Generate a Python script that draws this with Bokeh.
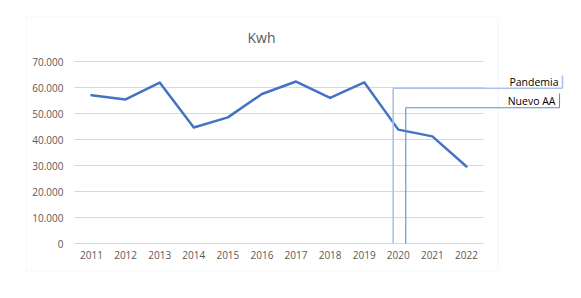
from bokeh.plotting import figure
from bokeh.models import Range1d, FixedTicker, Arrow, Label, BoxAnnotation
from bokeh.embed import file_html
from bokeh.resources import INLINE

# ---- data ----
years = ["2011", "2012", "2013", "2014", "2015", "2016", "2017", "2018",
         "2019", "2020", "2021", "2022"]
kwh = [57000, 55400, 61900, 44600, 48500, 57500, 62300, 56000, 62000,
       43800, 41200, 29600]
y_ticks = [0, 10000, 20000, 30000, 40000, 50000, 60000, 70000]

# event markers (year of event, offset inside the category, leader height)
event_names = ["Pandemia", "Nuevo AA"]
event_years = ["2020", "2020"]
event_offsets = [-0.15, 0.22]
event_heights = [59700, 52200]
event_colors = ["#A8C4EA", "#5E8CCB"]
event_widths = [1.6, 1.1]

# ---- layout geometry (pixels) ----
W, H = 581, 298
PL, PR, PT, PB = 74, 483, 61, 243          # plot area of the chart
BL, BR, BT, BB = 25, 497, 16, 271          # chart box
FR = 570                                   # right edge of drawing frame
n = len(years)
px_per_cat = (PR - PL) / n
px_per_val = (PB - PT) / y_ticks[-1]


def px_x(px):
    return (px - PL) / px_per_cat


def px_y(py):
    return (PB - py) / px_per_val


p = figure(x_range=Range1d(px_x(BL), px_x(FR)),
           y_range=Range1d(px_y(BB), px_y(BT)),
           width=W, height=H, title=None,
           min_border_left=BL, min_border_right=W - FR, min_border_top=BT,
           min_border_bottom=H - BB, output_backend="svg",
           toolbar_location=None)
p.outline_line_color = None
p.background_fill_color = "white"
p.border_fill_color = "white"
p.xgrid.grid_line_color = None
p.ygrid.grid_line_color = None

font = "Open Sans"
x_pos = [i + 0.5 for i in range(n)]
p.xaxis.ticker = FixedTicker(ticks=x_pos)
p.xaxis.major_label_overrides = {x: y for x, y in zip(x_pos, years)}
p.yaxis.ticker = FixedTicker(ticks=y_ticks)
p.yaxis.major_label_overrides = {v: f"{v:,}".replace(",", ".") for v in y_ticks}
for ax in (p.xaxis, p.yaxis):
    ax.axis_line_color = None
    ax.major_tick_line_color = None
    ax.minor_tick_line_color = None
    ax.major_tick_out = 0
    ax.major_tick_in = 0
    ax.minor_tick_out = 0
    ax.major_label_text_font = font
    ax.major_label_text_font_size = "10px"
    ax.major_label_text_color = "#595959"
p.yaxis.major_label_standoff = -(PL - 11 - BL)
p.xaxis.major_label_standoff = -(BB - PB - 7)

# chart box
p.add_layout(BoxAnnotation(left=px_x(BL + 0.5), right=px_x(BR + 0.5),
                           top=px_y(BT + 0.5), bottom=px_y(BB - 0.5),
                           fill_alpha=0, line_color="#D9D9D9", line_width=1,
                           level="underlay"))

# horizontal gridlines across the plot area
p.segment(x0=0, x1=n, y0=y_ticks, y1=y_ticks, line_color="#D9D9D9",
          line_width=1)

# title
p.add_layout(Label(x=px_x(261), y=px_y(37), text="Kwh", text_align="center",
                   text_baseline="middle", text_font=font,
                   text_font_size="14px", text_color="#595959"))

# main line
p.line(x_pos, kwh, line_color="#4472C4", line_width=2.5, line_join="round",
       line_cap="round")

# event leader lines + labels
label_right = [562, 559]
label_tops = [75, 93]
for i, name in enumerate(event_names):
    xi = years.index(event_years[i]) + 0.5 + event_offsets[i]
    yh = event_heights[i]
    xr = px_x(label_right[i])
    yt = px_y(label_tops[i])
    for (x0, y0, x1, y1) in [(xi, 0, xi, yh), (xi, yh, xr, yh), (xr, yh, xr, yt)]:
        p.add_layout(Arrow(end=None, x_start=x0, y_start=y0, x_end=x1, y_end=y1,
                           line_color=event_colors[i],
                           line_width=event_widths[i]))
    p.add_layout(Label(x=xr - 4 / px_per_cat, y=(yh + yt) / 2, text=name,
                       text_align="right", text_baseline="middle",
                       text_font=font, text_font_size="10.5px",
                       text_color="#000000"))

open("out.html", "w").write(file_html(p, INLINE))
